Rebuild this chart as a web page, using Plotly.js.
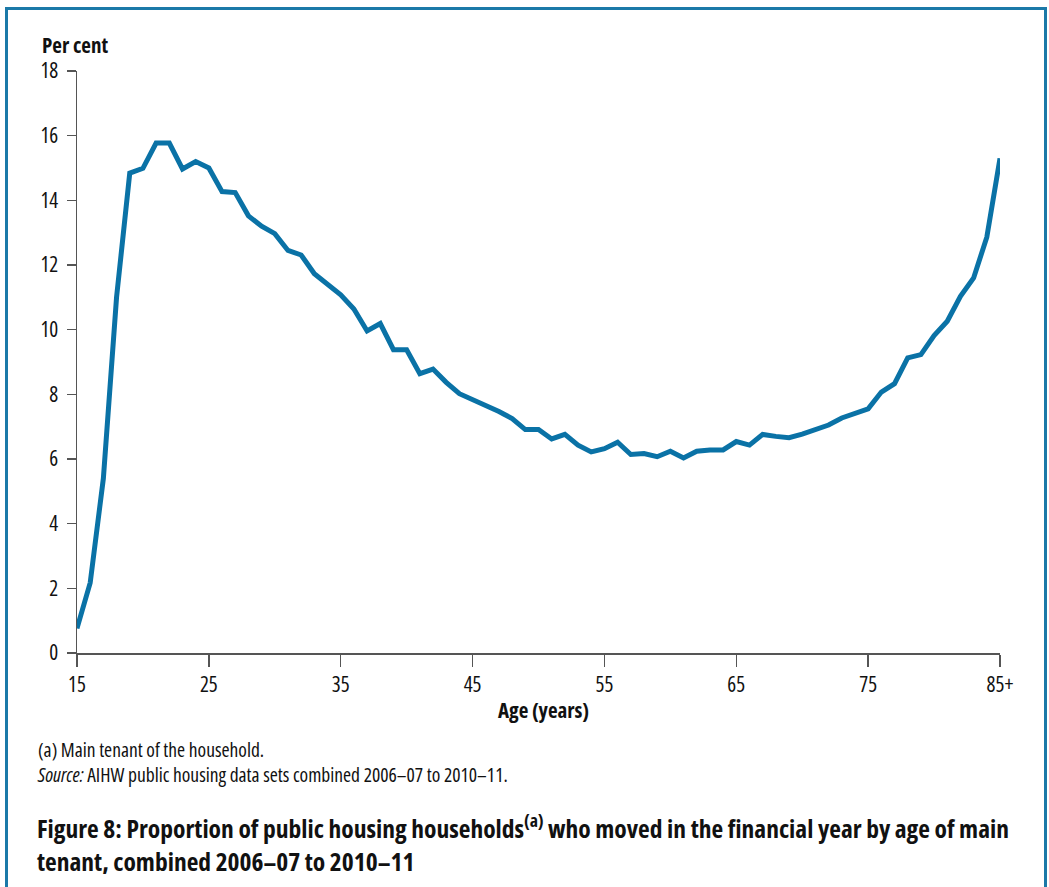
<!DOCTYPE html>
<html>
<head>
<meta charset="utf-8">
<script src="https://cdn.plot.ly/plotly-3.0.1.min.js"></script>
<style>
  html, body { margin: 0; padding: 0; background: #ffffff; }
  #wrap { position: relative; width: 1049px; height: 887px; overflow: hidden; }
  #chart { position: absolute; left: 0; top: 0; width: 1049px; height: 887px; }
  svg text, svg tspan { font-stretch: 75% !important; }
  #frame { position: absolute; left: 5px; top: 7px; width: 1042px; height: 920px;
           box-sizing: border-box; border: 3px solid #1b79a8; pointer-events: none; }
</style>
</head>
<body>
<div id="wrap">
  <div id="chart"></div>
  <div id="frame"></div>
</div>
<script>
// Age of main tenant (85 = "85+")
const ages = [15,16,17,18,19,20,21,22,23,24,25,26,27,28,29,30,31,32,33,34,35,36,37,38,39,40,
  41,42,43,44,45,46,47,48,49,50,51,52,53,54,55,56,57,58,59,60,61,62,63,64,65,66,67,68,69,70,
  71,72,73,74,75,76,77,78,79,80,81,82,83,84,85];

// Per cent of households who moved in the financial year
const percentMoved = [0.76,2.17,5.4,11.0,14.84,14.99,15.77,15.77,14.97,15.2,15.0,14.27,14.24,13.52,13.2,12.97,
  12.45,12.31,11.73,11.4,11.08,10.64,9.96,10.19,9.38,9.38,8.64,8.78,8.37,8.02,7.84,7.64,7.47,7.25,6.91,6.91,
  6.62,6.76,6.43,6.22,6.32,6.52,6.14,6.17,6.07,6.24,6.03,6.24,6.28,6.28,6.54,6.43,6.76,6.7,6.66,6.77,
  6.91,7.05,7.27,7.43,7.55,8.07,8.33,9.13,9.23,9.82,10.26,11.03,11.6,12.86,15.3];

const xTickVals = [15,25,35,45,55,65,75,85];
const xTickText = ['15','25','35','45','55','65','75','85+'];
const yTickVals = [0,2,4,6,8,10,12,14,16,18];

const FONT = '"Open Sans", "Noto Sans", "DejaVu Sans", sans-serif';

const trace = {
  x: ages,
  y: percentMoved,
  type: 'scatter',
  mode: 'lines',
  line: { color: '#0a72a6', width: 5, shape: 'linear' },
  hoverinfo: 'x+y',
  showlegend: false
};

// plot area: x 77..1000 px, y 71..653 px
const L = 77, R = 1000, T = 71, B = 653;
const px = v => (v - L) / (R - L);
const py = v => (B - v) / (B - T);

const layout = {
  width: 1049,
  height: 887,
  margin: { l: L, r: 1049 - R, t: T, b: 887 - B, pad: 0 },
  paper_bgcolor: '#ffffff',
  plot_bgcolor: '#ffffff',
  font: { family: FONT, size: 20, color: '#111111' },
  xaxis: {
    range: [15, 85],
    tickmode: 'array',
    tickvals: xTickVals,
    ticktext: xTickText,
    showgrid: false,
    zeroline: false,
    showline: true,
    linecolor: '#555555',
    linewidth: 1.5,
    ticks: 'outside',
    ticklen: 12,
    tickwidth: 1.5,
    tickcolor: '#555555',
    tickfont: { family: FONT, size: 21, color: '#111111' },
    fixedrange: true
  },
  yaxis: {
    range: [0, 18],
    tickmode: 'array',
    tickvals: yTickVals,
    showgrid: false,
    zeroline: false,
    showline: true,
    linecolor: '#555555',
    linewidth: 1.5,
    ticks: 'outside',
    ticklen: 9,
    tickwidth: 1.5,
    tickcolor: '#555555',
    ticklabelstandoff: 4,
    tickfont: { family: FONT, size: 21, color: '#111111' },
    fixedrange: true
  },
  annotations: [
    { text: '<b>Per cent</b>', xref: 'paper', yref: 'paper', x: px(40), y: py(45),
      xanchor: 'left', yanchor: 'middle', showarrow: false,
      font: { family: FONT, size: 21, color: '#111111' } },
    { text: '<b>Age (years)</b>', xref: 'paper', yref: 'paper', x: px(543), y: py(710),
      xanchor: 'center', yanchor: 'middle', showarrow: false,
      font: { family: FONT, size: 21, color: '#111111' } },
    { text: '(a) Main tenant of the household.<br><i>Source:</i> AIHW public housing data sets combined 2006\u201307 to 2010\u201311.',
      xref: 'paper', yref: 'paper', x: px(36), y: py(761.5), xanchor: 'left', yanchor: 'middle', align: 'left',
      showarrow: false, borderpad: 0,
      font: { family: FONT, size: 19.5, color: '#111111' } },
    { text: '<b>Figure 8: Proportion of public housing households<sup>(a)</sup> who moved in the financial year by age of main<br>tenant, combined 2006\u201307 to 2010\u201311</b>',
      xref: 'paper', yref: 'paper', x: px(36), y: py(843), xanchor: 'left', yanchor: 'middle', align: 'left',
      showarrow: false, borderpad: 0,
      font: { family: FONT, size: 25.5, color: '#111111' } }
  ]
};

Plotly.newPlot('chart', [trace], layout, { displayModeBar: false, staticPlot: true });
</script>
</body>
</html>
